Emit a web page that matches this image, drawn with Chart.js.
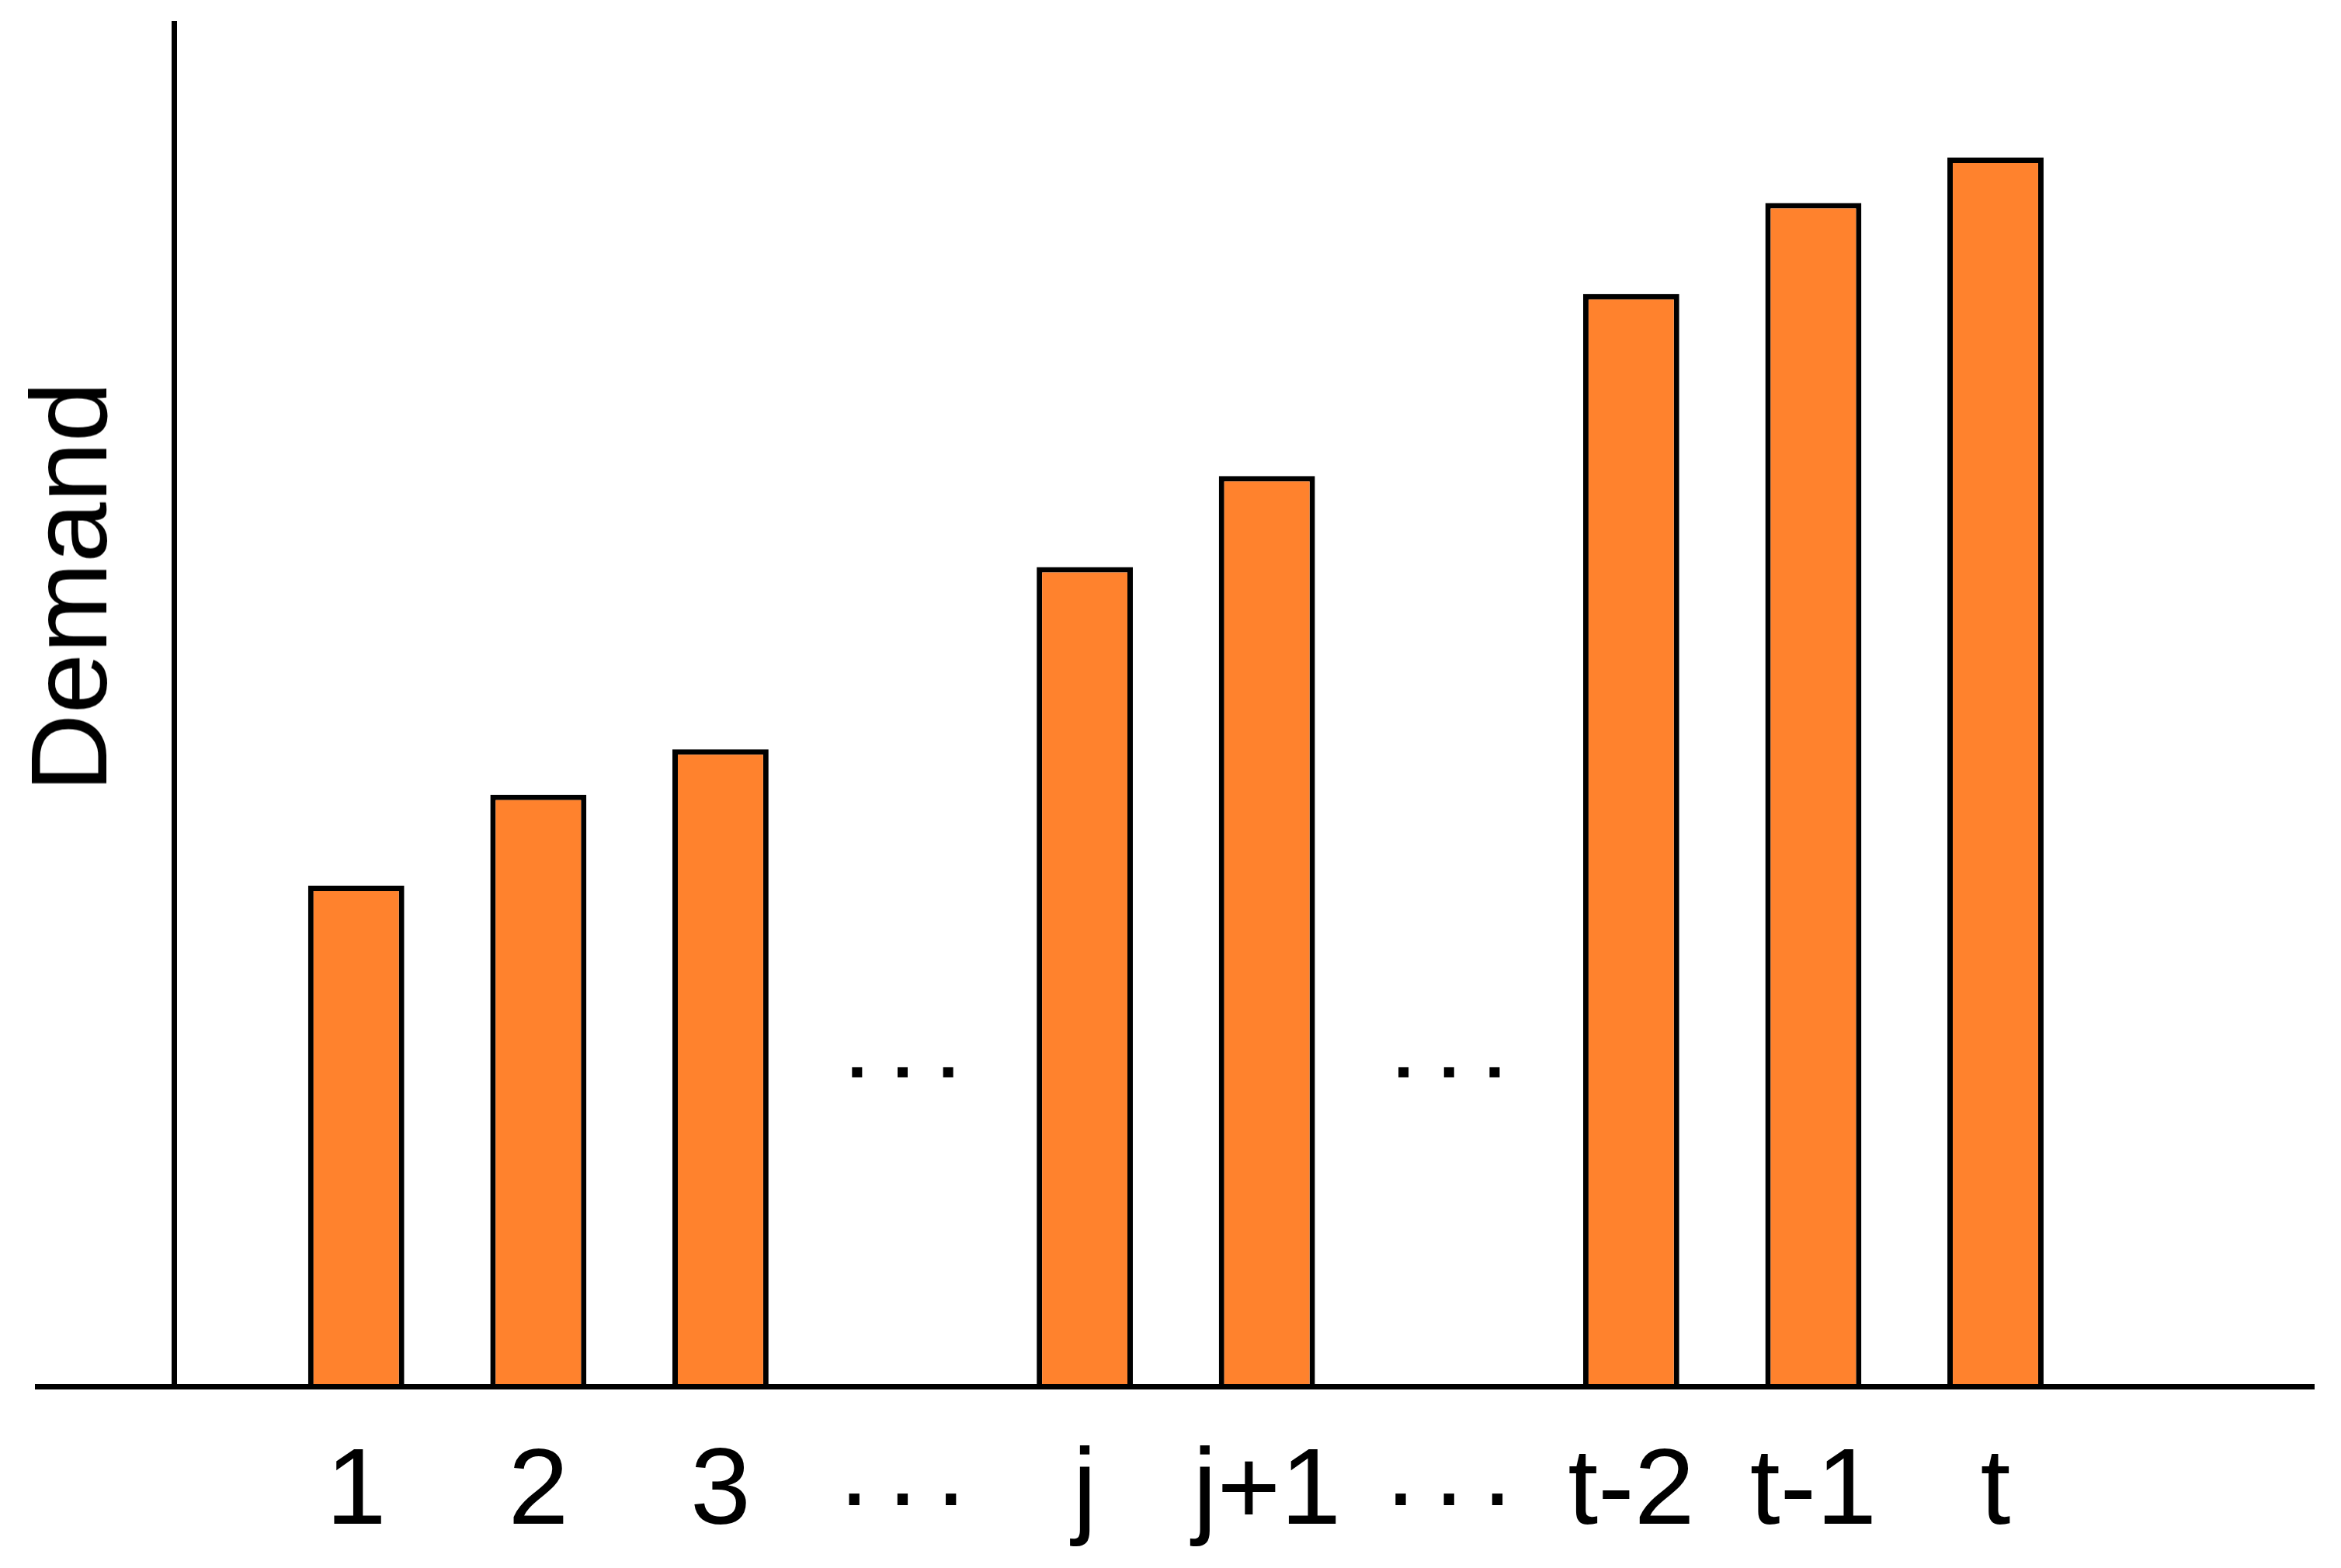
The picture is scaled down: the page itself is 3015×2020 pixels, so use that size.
<!DOCTYPE html>
<html><head><meta charset="utf-8">
<script src="https://cdn.jsdelivr.net/npm/chart.js@4.4.1/dist/chart.umd.min.js"></script>
<style>
html,body{margin:0;padding:0;background:#fff;}
#wrap{position:relative;width:3015px;height:2020px;overflow:hidden;}
#ytitle{position:absolute;left:89px;top:756px;transform:translate(-50%,-50%) rotate(-90deg);font-family:'Liberation Sans',Arial,sans-serif;font-size:140px;line-height:1;white-space:nowrap;color:#000;}
</style></head><body>
<div id="wrap"><canvas id="c" width="3015" height="2020" style="width:3015px;height:2020px;display:block"></canvas><div id="ytitle">Demand</div></div>
<script>
const ELLIPSIS = '.\u2006.\u2006.';
const categories = ['1', '2', '3', ELLIPSIS, 'j', 'j+1', ELLIPSIS, 't-2', 't-1', 't'];
const barPositions = [1, 2, 3, 5, 6, 8, 9, 10];
const demandValues = [11, 13, 14, 18, 20, 24, 26, 27];
const ellipsisX = [3.75, 4, 4.25, 6.75, 7, 7.25];
const ellipsisY = [6.9, 6.9, 6.9, 6.9, 6.9, 6.9];
const tickValues = [0, 1, 2, 3, 4, 5, 6, 7, 8, 9, 10];
const xMin = -0.751, xMax = 11.735;
const yMin = 0, yMax = 30;

const FONT = "'Liberation Sans', Arial, sans-serif";

function labelFor(value) {
  const i = Math.round(value);
  return (Math.abs(value - i) < 1e-6 && i >= 1 && i <= categories.length) ? categories[i - 1] : '';
}

new Chart(document.getElementById('c'), {
  type: 'bar',
  data: {
    datasets: [
      {
        type: 'bar',
        data: barPositions.map((x, i) => ({x: x, y: demandValues[i]})),
        backgroundColor: '#FF822D',
        borderColor: '#000000',
        borderWidth: 7,
        borderSkipped: 'bottom',
        barPercentage: 0.528,
        categoryPercentage: 1
      },
      {
        type: 'scatter',
        data: ellipsisX.map((x, i) => ({x: x, y: ellipsisY[i]})),
        pointStyle: 'rect',
        pointRadius: 9.2,
        pointHoverRadius: 9.2,
        pointBackgroundColor: '#000000',
        pointBorderWidth: 0,
        showLine: false
      }
    ]
  },
  options: {
    responsive: false,
    animation: false,
    devicePixelRatio: 1,
    layout: {padding: {left: 48, right: 38, top: 27, bottom: 0}},
    plugins: {legend: {display: false}, tooltip: {enabled: false}},
    scales: {
      x: {
        type: 'linear',
        offset: false,
        min: xMin,
        max: xMax,
        afterBuildTicks: (s) => { s.ticks = tickValues.map(v => ({value: v})); },
        afterFit: (s) => { s.height = 234; },
        ticks: {
          autoSkip: false,
          maxRotation: 0,
          minRotation: 0,
          padding: 54,
          color: '#000000',
          font: (ctx) => (ctx.tick && labelFor(ctx.tick.value) === ELLIPSIS)
            ? {family: FONT, size: 140, lineHeight: 0.857}
            : {family: FONT, size: 140, lineHeight: 1.2},
          callback: (value) => labelFor(value)
        },
        grid: {
          offset: false,
          drawTicks: false,
          tickLength: 0,
          z: 1,
          lineWidth: 7,
          color: (ctx) => (ctx.tick && ctx.tick.value === 0) ? '#000000' : 'rgba(0,0,0,0)'
        },
        border: {display: true, color: '#000000', width: 7, z: 1}
      },
      y: {
        display: false,
        min: yMin,
        max: yMax
      }
    }
  }
});
</script>
</body></html>
